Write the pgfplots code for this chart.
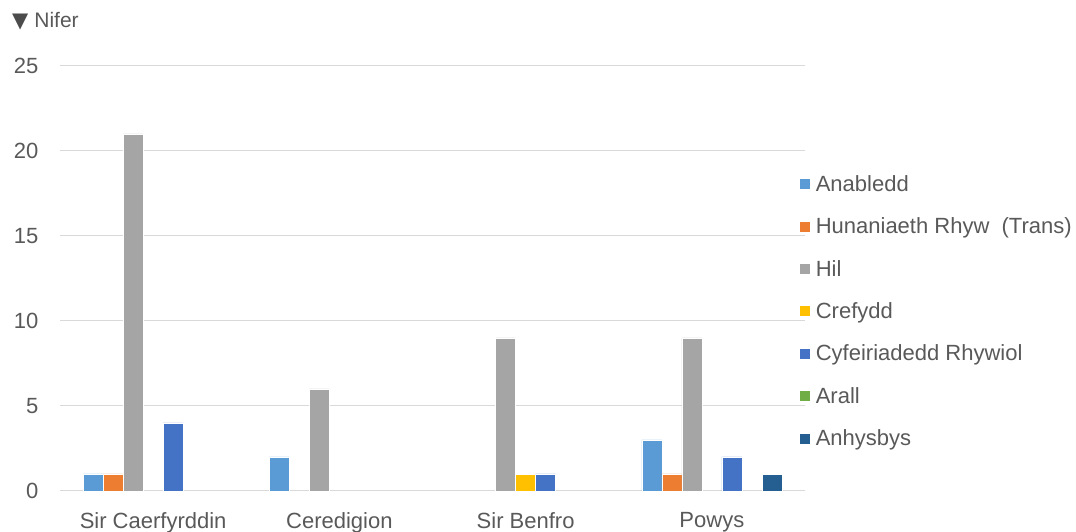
\documentclass[border=0pt]{standalone}
\usepackage{pgfplots}
\pgfplotsset{compat=1.18}
\usepackage{fontspec}
\setmainfont{Liberation Sans}
\newfontfamily\symfont{DejaVu Sans}
\definecolor{cA}{HTML}{5B9BD5}
\definecolor{cB}{HTML}{ED7D31}
\definecolor{cC}{HTML}{A5A5A5}
\definecolor{cD}{HTML}{FFC000}
\definecolor{cE}{HTML}{4472C4}
\definecolor{cF}{HTML}{70AD47}
\definecolor{cG}{HTML}{255E91}
\definecolor{txt}{HTML}{595959}
\definecolor{grd}{HTML}{D9D9D9}
\begin{document}
\begin{tikzpicture}[x=1pt,y=1pt]
\useasboundingbox (0,0) rectangle (1076,532);
\node[anchor=west,font=\fontsize{21}{23}\selectfont,text=txt,inner sep=0pt] at (12,511) {{\symfont\color{black!70}▼}\hspace{6pt}Nifer};
\begin{axis}[
  at={(60pt,41pt)}, anchor=south west,
  scale only axis, width=745pt, height=425pt,
  ybar=0pt, bar width=20pt,
  xmin=-0.5, xmax=3.5, ymin=0, ymax=25,
  xtick={0,1,2,3},
  xticklabels={Sir Caerfyrddin,Ceredigion,Sir Benfro,Powys},
  ytick={0,5,10,15,20,25},
  ymajorgrids, grid style={grd, line width=1pt},
  axis x line*=bottom, axis y line*=left,
  x axis line style={grd, line width=1pt, -},
  y axis line style={draw=none},
  major tick length=0pt,
  tick label style={font=\fontsize{22}{24}\selectfont, text=txt},
  yticklabel style={xshift=-18pt},
  xticklabel style={yshift=-18pt},
  /pgf/number format/assume math mode=true,
  legend style={draw=none, fill=none, at={(739pt,316pt)}, anchor=north west,
    font=\fontsize{22}{24}\selectfont, text=txt,
    row sep=25pt, inner sep=0pt, nodes={inner xsep=5pt, inner ysep=0pt}},
  legend cell align=left,
  legend image code/.code={\fill[#1] (0pt,-5.5pt) rectangle (11pt,5.5pt);},
  every axis plot/.append style={draw=white, line width=0.6pt},
]
\addplot[fill=cA] coordinates {(0,1) (1,2) (3,3)};
\addplot[fill=cB] coordinates {(0,1) (3,1)};
\addplot[fill=cC] coordinates {(0,21) (1,6) (2,9) (3,9)};
\addplot[fill=cD] coordinates {(2,1)};
\addplot[fill=cE] coordinates {(0,4) (2,1) (3,2)};
\addplot[fill=cF] coordinates {(5,0)};
\addplot[fill=cG] coordinates {(3,1)};
\legend{Anabledd,Hunaniaeth Rhyw\ \ (Trans),Hil,Crefydd,Cyfeiriadedd Rhywiol,Arall,Anhysbys}
\end{axis}
\end{tikzpicture}
\end{document}
